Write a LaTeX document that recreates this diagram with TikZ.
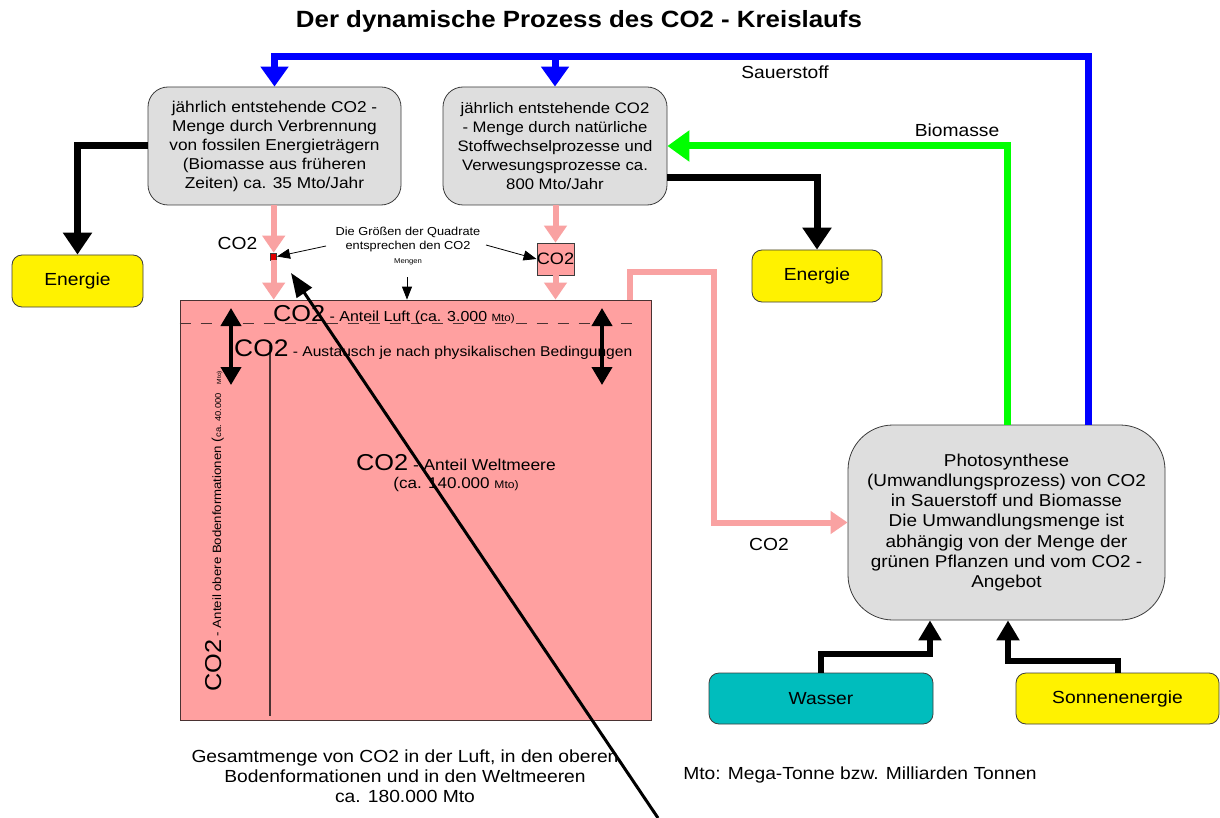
\documentclass[tikz,border=0pt]{standalone}
\usepackage{fontspec}
\setmainfont[FakeStretch=1.1]{Liberation Sans}
\usetikzlibrary{arrows.meta}
\definecolor{pinkfill}{HTML}{FFA0A0}
\definecolor{pinkline}{HTML}{F9A2A2}
\definecolor{grayfill}{HTML}{DEDEDE}
\definecolor{edgegray}{HTML}{3C3C3C}
\definecolor{tealfill}{HTML}{00BDBD}
\definecolor{sqred}{HTML}{E00000}
\definecolor{rectedge}{HTML}{4A3232}
\definecolor{pureblue}{HTML}{0000FF}
\definecolor{puregreen}{HTML}{00FF00}
\newcommand{\fsz}[2]{\fontsize{#1}{#2}\selectfont}
\begin{document}
\begin{tikzpicture}[x=1pt,y=-1pt, font=\fsz{17.5}{20},
  procbox/.style={draw=edgegray, line width=0.8pt, fill=grayfill, rounded corners=20pt, align=center, inner sep=0pt},
  colbox/.style={draw=edgegray, line width=0.8pt, rounded corners=10pt, inner sep=0pt},
  bluearrow/.style={draw=pureblue, line width=7pt, -{Triangle[width=27pt,length=20pt]}},
  greenarrow/.style={draw=puregreen, line width=7pt, -{Triangle[width=30pt,length=22pt]}},
  blackarrow/.style={draw=black, line width=7pt, -{Triangle[width=28pt,length=22pt]}},
  inarrow/.style={draw=black, line width=6pt, -{Triangle[width=22pt,length=20pt]}},
  pinkarrow/.style={draw=pinkline, line width=6pt, -{Triangle[width=22pt,length=17pt]}},
  dblarrow/.style={draw=black, line width=4pt, {Triangle[width=20pt,length=18pt]}-{Triangle[width=20pt,length=18pt]}},
  notearrow/.style={draw=black, line width=0.8pt, -{Triangle[width=10pt,length=13pt]}},
  pointer/.style={draw=black, line width=3pt, -{Triangle[width=18pt,length=24pt]}},
  lbl/.style={inner sep=0pt},
]
\useasboundingbox (0,0) rectangle (1220,818);
\fill[white] (0,0) rectangle (1220,818);

% title
\node[lbl, font=\bfseries\fsz{23.5}{26}] (title) at (579,21) {Der dynamische Prozess des CO2 - Kreislaufs};

% big reservoir
\node[draw=rectedge, line width=0.8pt, fill=pinkfill, minimum width=471pt, minimum height=420pt, inner sep=0pt] (R) at (415.5,510) {};
\draw[rectedge, line width=0.8pt, dash pattern=on 11pt off 10pt] (R.west |- 0,323) -- (640,323);
\draw[rectedge, line width=1.2pt] (270,345) -- (270,716);

% process boxes
\node[procbox, minimum width=253pt, minimum height=118pt, font=\fsz{15.7}{19}] (A) at (274.5,146)
 {jährlich entstehende CO2 -\\Menge durch Verbrennung\\von fossilen Energieträgern\\ (Biomasse aus früheren\\Zeiten) ca. 35 Mto/Jahr};
\node[procbox, minimum width=224pt, minimum height=118pt, font=\fsz{15.2}{19}] (B) at (555,146)
 {jährlich entstehende CO2\\- Menge durch natürliche\\Stoffwechselprozesse und\\Verwesungsprozesse ca.\\800 Mto/Jahr};
\node[procbox, rounded corners=45pt, minimum width=317pt, minimum height=195pt, font=\fsz{17.2}{20.2}] (C) at (1006.5,522.5)
 {Photosynthese\\(Umwandlungsprozess) von CO2\\in Sauerstoff und Biomasse\\Die Umwandlungsmenge ist\\abhängig von der Menge der\\grünen Pflanzen und vom CO2 -\\Angebot};

% coloured boxes
\node[colbox, fill=yellow, minimum width=131pt, minimum height=52pt] (E1) at (77.5,281) {Energie};
\node[colbox, fill=yellow, minimum width=130pt, minimum height=52pt] (E2) at (817,276) {Energie};
\node[colbox, fill=tealfill, minimum width=224pt, minimum height=51pt] (W) at (821,698.5) {Wasser};
\node[colbox, fill=yellow, minimum width=203pt, minimum height=51pt] (S) at (1117.5,698.5) {Sonnenenergie};

% squares
\node[draw=edgegray, line width=0.6pt, fill=sqred, minimum width=6pt, minimum height=7pt, inner sep=0pt] (q1) at (273.7,256.5) {};
\node[draw=edgegray, line width=0.6pt, fill=pinkfill, minimum width=35pt, minimum height=32pt, inner sep=0pt, font=\fsz{16.5}{17}] (q2) at (555.5,259) {CO2};

% pink CO2 flows
\draw[pinkarrow] (A.south -| q1) -- (q1.north);
\draw[pinkarrow] (q1.south) -- (q1.south |- R.north);
\draw[pinkarrow] (B.south -| q2) -- (q2.north);
\draw[pinkarrow] (q2.south) -- (q2.south |- R.north);
\coordinate (pc) at (714,272);
\draw[pinkarrow] ([xshift=214.5pt]R.north) |- (pc) |- (C.west);

% oxygen (blue)
\coordinate (bl) at (0,57);
\draw[bluearrow] ([xshift=81.5pt]C.north) |- (A.north |- bl) -- (A.north);
\draw[bluearrow] (B.north |- bl) -- (B.north);

% biomass (green)
\draw[greenarrow] ([xshift=1pt]C.north) |- (B.east);

% energy (black)
\draw[blackarrow] (A.west) -| (E1.north);
\draw[blackarrow] ([yshift=-32pt]B.east) -| (E2.north);

% inputs to photosynthesis
\coordinate (wc) at (930,654);
\draw[inarrow] (W.north) |- (wc) -- (wc |- C.south);
\coordinate (sc) at (1008,661);
\draw[inarrow] (S.north) |- (sc) -- (sc |- C.south);

% exchange arrows
\coordinate (d1a) at (231,308); \coordinate (d1b) at (231,385);
\coordinate (d2a) at (602,308); \coordinate (d2b) at (602,385);
\draw[dblarrow] (d1a) -- (d1b);
\draw[dblarrow] (d2a) -- (d2b);

% labels in reservoir
\node[lbl, anchor=base west] (luft) at (273,321) {{\fsz{23}{23}CO2}{\fsz{14.5}{16} - Anteil Luft (ca. 3.000 }{\fsz{10.5}{12}Mto)}};
\node[lbl, anchor=base west] (aust) at (234,356) {{\fsz{24}{24}CO2}{\fsz{14.2}{16} - Austausch je nach physikalischen Bedingungen}};
\node[lbl, anchor=base west] (welt) at (356,470) {{\fsz{23}{23}CO2}{\fsz{15.8}{18} - Anteil Weltmeere}};
\node[lbl, anchor=base] (weltn) at (456,488) {{\fsz{15.5}{17}(ca. 140.000 }{\fsz{11}{12}Mto)}};
\node[lbl, rotate=90, anchor=base west] (boden) at (221,692) {{\fsz{23}{23}CO2}{\fsz{12}{14} - Anteil obere Bodenformationen }{\fsz{13}{14}(}{\fsz{8.5}{9}ca. 40.000\hspace{9pt}}{\fsz{6}{7}Mto)}};

% annotation
\node[lbl, align=center, font=\fsz{11.6}{14}] (note) at (408,246) {Die Größen der Quadrate\\entsprechen den CO2\\{\fsz{7}{9}Mengen}};
\coordinate (n1) at (326,246);
\coordinate (n2) at (486,245);
\coordinate (n3) at (407,277);
\draw[notearrow] (n1) -- (q1.east);
\draw[notearrow] (n2) -- (q2.west);
\draw[notearrow] (n3) -- (n3 |- R.north);

% other labels
\node[lbl] (lco1) at (237.5,243.5) {CO2};
\node[lbl] (lsau) at (785,72) {Sauerstoff};
\node[lbl] (lbio) at (957,130) {Biomasse};
\node[lbl] (lco3) at (769,544) {CO2};
\node[lbl, align=center] (total) at (405,776) {Gesamtmenge von CO2 in der Luft, in den oberen\\Bodenformationen und in den Weltmeeren\\ca. 180.000 Mto};
\node[lbl] (mto) at (860,775) {Mto: Mega-Tonne bzw. Milliarden Tonnen};

% long pointer
\coordinate (pend) at (658,818);
\coordinate (ptip) at (291,273);
\draw[pointer] (pend) -- (ptip);
\end{tikzpicture}
\end{document}
